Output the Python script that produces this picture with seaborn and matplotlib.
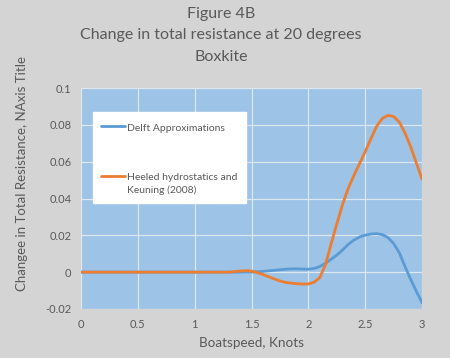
import numpy as np
import pandas as pd
import matplotlib
matplotlib.use("Agg")
import matplotlib.pyplot as plt
import seaborn as sns
from matplotlib.legend_handler import HandlerLine2D

# values
boatspeed = [0.0, 0.1, 0.2, 0.3, 0.4, 0.5, 0.6, 0.7, 0.8, 0.9, 1.0, 1.1, 1.2, 1.3,
             1.35, 1.4, 1.45, 1.5, 1.55, 1.6, 1.65, 1.7, 1.75, 1.8, 1.85, 1.9, 1.95,
             2.0, 2.05, 2.1, 2.15, 2.2, 2.25, 2.3, 2.35, 2.4, 2.45, 2.5, 2.55, 2.6,
             2.65, 2.7, 2.75, 2.8, 2.85, 2.9, 2.95, 3.0]
delft = [0, 0, 0, 0, 0, 0, 0, 0, 0, 0, 0, 0, 0, 0,
         0, 0, 0.0001, 0.0001, 0.0002, 0.0004, 0.0007, 0.0010, 0.0013, 0.0016, 0.0018, 0.0018, 0.0017,
         0.0016, 0.0020, 0.0030, 0.0048, 0.0070, 0.0093, 0.0120, 0.0150, 0.0174, 0.0191, 0.0201, 0.0207, 0.0209,
         0.0204, 0.0188, 0.0155, 0.0105, 0.0030, -0.0040, -0.0105, -0.0166]
keuning = [0, 0, 0, 0, 0, 0, 0, 0, 0, 0, 0, 0, 0, 0,
           0.0003, 0.0006, 0.0008, 0.0006, -0.0003, -0.0013, -0.0025, -0.0037, -0.0048, -0.0056, -0.0060, -0.0063, -0.0065,
           -0.0064, -0.0055, -0.0030, 0.0040, 0.0155, 0.0262, 0.0367, 0.0455, 0.0525, 0.0590, 0.0655, 0.0725, 0.0792,
           0.0835, 0.0852, 0.0845, 0.0815, 0.0755, 0.0680, 0.0592, 0.0504]
series_names = ["Delft Approximations", "Heeled hydrostatics and\nKeuning (2008)"]
x_ticks = [0, 0.5, 1, 1.5, 2, 2.5, 3]
y_ticks = [-0.02, 0, 0.02, 0.04, 0.06, 0.08, 0.1]

df = pd.DataFrame({"Boatspeed": boatspeed * 2,
                   "Resistance": delft + keuning,
                   "Series": [series_names[0]] * len(boatspeed) + [series_names[1]] * len(boatspeed)})


# legend handle that sits next to the first line of a two-line label
class FirstLineHandler(HandlerLine2D):
    def __init__(self, shift=0, **kw):
        super().__init__(**kw)
        self.shift = shift

    def create_artists(self, legend, orig_handle, xdescent, ydescent, width, height, fontsize, trans):
        return super().create_artists(legend, orig_handle, xdescent, ydescent - self.shift,
                                      width, height, fontsize, trans)


sns.set_style("white")
plt.rcParams["font.family"] = ["Lato", "DejaVu Sans"]

text_col = "#595959"
bg = "#d4d4d4"

fig = plt.figure(figsize=(4.5, 3.58), dpi=100, facecolor=bg)
ax = fig.add_axes([0.18, 0.137, 0.758, 0.617])
ax.set_facecolor("#9dc3e6")

sns.lineplot(data=df, x="Boatspeed", y="Resistance", hue="Series",
             palette=["#5b9bd5", "#ed7d31"], linewidth=2, ax=ax, zorder=3)

ax.set_xlim(0, 3)
ax.set_ylim(-0.02, 0.1)
ax.set_xticks(x_ticks)
ax.set_xticklabels([f"{t:g}" for t in x_ticks])
ax.set_yticks(y_ticks)
ax.set_yticklabels([f"{t:g}" for t in y_ticks])
ax.grid(True, color="#dde7f0", linewidth=0.9)
ax.set_axisbelow(True)
for s in ax.spines.values():
    s.set_visible(False)
ax.tick_params(length=0, labelsize=8, labelcolor=text_col, pad=7)

ax.set_xlabel("")
ax.set_ylabel("")
fig.text(0.559, 0.042, "Boatspeed, Knots", ha="center", va="center", fontsize=9.7, color=text_col)
fig.text(0.049, 0.514, "Changee in Total Resistance, NAxis Title", ha="center", va="center",
         rotation=90, fontsize=9.5, color=text_col)

fig.text(0.491, 0.96, "Figure 4B", ha="center", va="center", fontsize=11.5, color=text_col)
fig.text(0.491, 0.903, "Change in total resistance at 20 degrees", ha="center", va="center",
         fontsize=11.5, color=text_col)
fig.text(0.491, 0.842, "Boxkite", ha="center", va="center", fontsize=11.5, color=text_col)

handles, labels = ax.get_legend_handles_labels()
leg = ax.legend(handles, labels, loc="upper left", bbox_to_anchor=(0.034, 0.89),
                frameon=True, fancybox=False,
                handler_map={handles[1]: FirstLineHandler(shift=8)},
                fontsize=7.5, labelspacing=3.6, handlelength=2.3, handleheight=1.8,
                handletextpad=0.22, borderpad=0.8, borderaxespad=0)
leg.get_frame().set_facecolor("white")
leg.get_frame().set_edgecolor("white")
leg.get_frame().set_alpha(1)
for t in leg.get_texts():
    t.set_color(text_col)
    t.set_linespacing(1.45)

fig.savefig("out.png", dpi=100, facecolor=bg)
